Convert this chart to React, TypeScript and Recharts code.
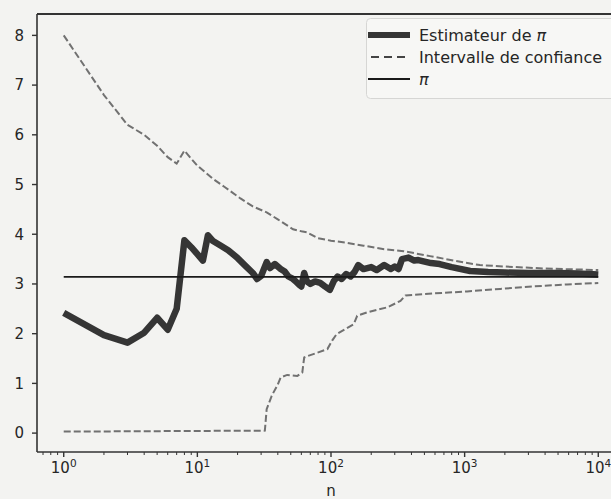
import { LineChart, Line, XAxis, YAxis, ReferenceLine } from "recharts";

// Estimateur de pi (n, valeur)
const estN = [1, 2, 3, 4, 5, 6, 7, 8, 9, 10, 11, 12, 13, 15, 17, 20, 23, 26, 28, 30, 33, 35, 38, 42, 45, 48, 52, 55, 58, 60, 63, 66, 70, 76, 83, 90, 98, 105, 112, 120, 130, 140, 150, 160, 175, 200, 220, 250, 280, 300, 320, 340, 380, 420, 450, 560, 650, 800, 1100, 1500, 2000, 3000, 5000, 7000, 10000];
const estV = [2.42, 1.97, 1.82, 2.02, 2.32, 2.08, 2.5, 3.88, 3.74, 3.6, 3.47, 3.98, 3.87, 3.77, 3.68, 3.52, 3.36, 3.22, 3.1, 3.16, 3.44, 3.32, 3.4, 3.3, 3.25, 3.15, 3.1, 3.04, 2.98, 2.95, 3.22, 3.05, 3.0, 3.05, 3.02, 2.95, 2.88, 3.06, 3.15, 3.1, 3.2, 3.15, 3.24, 3.38, 3.3, 3.34, 3.28, 3.38, 3.3, 3.35, 3.3, 3.5, 3.53, 3.47, 3.48, 3.42, 3.4, 3.34, 3.26, 3.24, 3.23, 3.22, 3.22, 3.21, 3.19];

// Intervalle de confiance, borne haute
const upN = [1, 2, 3, 4, 5, 6, 7, 8, 9, 10, 13, 16, 21, 26, 33, 40, 52, 60, 66, 80, 100, 130, 175, 250, 350, 550, 1000, 1300, 2000, 4000, 10000];
const upV = [8.0, 6.8, 6.2, 6.0, 5.78, 5.55, 5.42, 5.68, 5.52, 5.38, 5.12, 4.95, 4.72, 4.56, 4.44, 4.3, 4.1, 4.06, 4.04, 3.92, 3.87, 3.83, 3.77, 3.7, 3.66, 3.56, 3.43, 3.38, 3.35, 3.31, 3.28];

// Intervalle de confiance, borne basse
const loN = [1, 32, 33, 36, 40, 42, 47, 56, 61, 63, 67, 94, 102, 110, 148, 157, 187, 264, 331, 361, 584, 1043, 1849, 3267, 5834, 10000];
const loV = [0.03, 0.05, 0.48, 0.75, 0.98, 1.12, 1.17, 1.15, 1.22, 1.52, 1.55, 1.69, 1.86, 1.99, 2.19, 2.36, 2.43, 2.53, 2.66, 2.77, 2.81, 2.85, 2.9, 2.95, 2.99, 3.02];

const piN = [1, 10000];

const majorTicks = [1, 10, 100, 1000, 10000];
const yTicks = [0, 1, 2, 3, 4, 5, 6, 7, 8];

const X_DOMAIN = [0.631, 15849];
const Y_DOMAIN = [-0.38, 8.43];

const minorTicks: number[] = [];
[0.1, 1, 10, 100, 1000].forEach((d) => {
  [2, 3, 4, 5, 6, 7, 8, 9].forEach((m) => {
    const v = m * d;
    if (v > X_DOMAIN[0] && v < X_DOMAIN[1]) minorTicks.push(v);
  });
});
const allTicks = [...majorTicks, ...minorTicks].sort((a, b) => a - b);

const pick = (ns: number[], vs: number[], n: number) => {
  const i = ns.indexOf(n);
  return i >= 0 ? vs[i] : null;
};

const allN = Array.from(new Set([...estN, ...upN, ...loN, ...piN])).sort((a, b) => a - b);
const rows = allN.map((n) => ({
  n,
  est: pick(estN, estV, n),
  up: pick(upN, upV, n),
  lo: pick(loN, loV, n),
  pi: piN.includes(n) ? Math.PI : null,
}));

const FONT = "DejaVu Sans";
const INK = "#262626";

const LogTick = (props: any) => {
  const { x, y, payload } = props;
  const v = payload.value;
  const exp = Math.round(Math.log10(v));
  const major = Math.abs(v - Math.pow(10, exp)) < 1e-6 * v;
  return (
    <g>
      <line x1={x} x2={x} y1={y} y2={y + (major ? 5 : 3)} stroke="#333" strokeWidth={major ? 1.4 : 1} />
      {major && (
        <text x={x} y={y + 21} textAnchor="middle" fontSize={15} fill={INK} fontFamily={FONT}>
          10<tspan dy={-6} fontSize={10.5}>{exp}</tspan>
        </text>
      )}
    </g>
  );
};

export default function App() {
  return (
    <div
      style={{
        position: "fixed",
        left: 0,
        top: 0,
        width: 611,
        height: 499,
        overflow: "hidden",
        background: "#f3f3f1",
        fontFamily: FONT,
      }}
    >
      <LineChart width={660} height={499} data={rows} margin={{ top: 14, right: 35, left: 0, bottom: 0 }}>
        <XAxis
          dataKey="n"
          type="number"
          scale="log"
          domain={X_DOMAIN}
          allowDataOverflow
          ticks={allTicks}
          interval={0}
          tick={<LogTick />}
          tickLine={false}
          tickSize={0}
          tickMargin={0}
          height={47}
          axisLine={{ stroke: "#333", strokeWidth: 1.6 }}
          label={{
            content: (p: any) => {
              const vb = p.viewBox;
              return (
                <text x={vb.x + vb.width / 2} y={496} textAnchor="middle" fontSize={15} fill={INK} fontFamily={FONT}>
                  n
                </text>
              );
            },
          }}
        />
        <YAxis
          type="number"
          domain={Y_DOMAIN}
          allowDataOverflow
          ticks={yTicks}
          interval={0}
          width={37}
          tickSize={5}
          tickMargin={8}
          tick={{ fontSize: 15, fill: INK, fontFamily: FONT }}
          tickLine={{ stroke: "#333", strokeWidth: 1.4 }}
          axisLine={{ stroke: "#333", strokeWidth: 1.6 }}
        />
        <ReferenceLine y={Y_DOMAIN[1]} stroke="#333" strokeWidth={1.8} ifOverflow="visible" />
        <Line
          dataKey="up"
          stroke="#717171"
          strokeWidth={2}
          strokeDasharray="7 3"
          dot={false}
          connectNulls
          isAnimationActive={false}
          type="linear"
        />
        <Line
          dataKey="lo"
          stroke="#717171"
          strokeWidth={2}
          strokeDasharray="7 3"
          dot={false}
          connectNulls
          isAnimationActive={false}
          type="linear"
        />
        <Line
          dataKey="est"
          stroke="#353535"
          strokeWidth={6.5}
          strokeLinejoin="round"
          dot={false}
          connectNulls
          isAnimationActive={false}
          type="linear"
        />
        <Line
          dataKey="pi"
          stroke="#1a1a1a"
          strokeWidth={1.7}
          dot={false}
          connectNulls
          isAnimationActive={false}
          type="linear"
        />
      </LineChart>
      <svg width={245} height={82} style={{ position: "absolute", left: 366, top: 18 }}>
        <rect x={0.5} y={0.5} width={270} height={80} rx={4} fill="#f7f7f5" stroke="#d6d6d4" />
        <line x1={2} x2={44} y1={17} y2={17} stroke="#353535" strokeWidth={6} />
        <text x={53} y={22.5} fontSize={16} fill={INK} fontFamily={FONT}>
          Estimateur de <tspan fontStyle="italic">π</tspan>
        </text>
        <line x1={5} x2={44} y1={39} y2={39} stroke="#444" strokeWidth={2.2} strokeDasharray="8 5" />
        <text x={53} y={44.5} fontSize={16} fill={INK} fontFamily={FONT}>
          Intervalle de confiance
        </text>
        <line x1={2} x2={44} y1={61} y2={61} stroke="#1a1a1a" strokeWidth={2.2} />
        <text x={53} y={66.5} fontSize={16} fill={INK} fontFamily={FONT} fontStyle="italic">
          π
        </text>
      </svg>
    </div>
  );
}
